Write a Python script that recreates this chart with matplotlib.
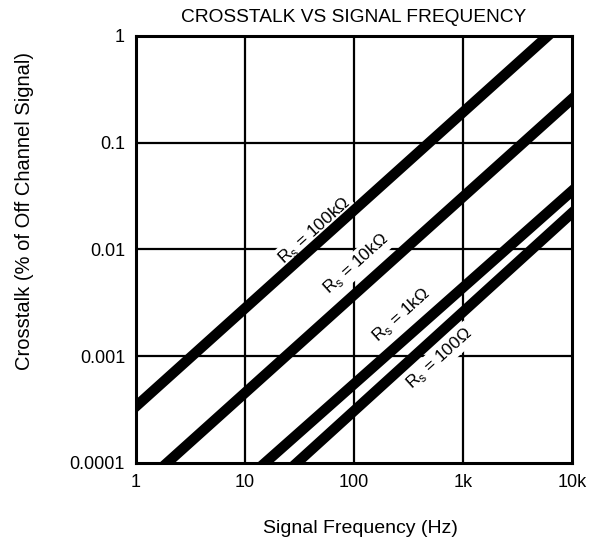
import matplotlib
matplotlib.use("Agg")
import matplotlib.pyplot as plt

plt.rcParams['font.family'] = ['Liberation Sans', 'DejaVu Sans']

# lignes : (fréquence, crosstalk) aux bords du cadre
series_names = ["100k", "10k", "1k", "100"]
freq_start = [1.0, 1.92, 15.2, 29.8]
xtalk_start = [0.00034, 0.0001, 0.0001, 0.0001]
freq_end = [6000.0, 10000.0, 10000.0, 10000.0]
xtalk_end = [1.0, 0.257, 0.0353, 0.022]

label_texts = ["R$_\\mathregular{s}$ = 100kΩ", "R$_\\mathregular{s}$ = 10kΩ",
               "R$_\\mathregular{s}$ = 1kΩ", "R$_\\mathregular{s}$ = 100Ω"]
label_freq = [43.5, 105.0, 272.0, 606.0]
label_xtalk = [0.0152, 0.0073, 0.00243, 0.00096]

x_ticks = [1, 10, 100, 1000, 10000]
x_tick_labels = ["1", "10", "100", "1k", "10k"]
y_ticks = [0.0001, 0.001, 0.01, 0.1, 1]
y_tick_labels = ["0.0001", "0.001", "0.01", "0.1", "1"]

fig = plt.figure(figsize=(5.97, 5.42), dpi=100)
ax = fig.add_axes([0.228, 0.1458, 0.730, 0.7878])
ax.set_xscale('log')
ax.set_yscale('log')
ax.set_xlim(1, 10000)
ax.set_ylim(0.0001, 1)

# griglia
for xt in x_ticks[1:-1]:
    ax.axvline(xt, color='black', lw=1.6, zorder=1)
for yt in y_ticks[1:-1]:
    ax.axhline(yt, color='black', lw=1.6, zorder=1)

for i in range(len(series_names)):
    ax.plot([freq_start[i], freq_end[i]], [xtalk_start[i], xtalk_end[i]],
            color='black', lw=7.5, solid_capstyle='projecting', zorder=3)

for i in range(len(label_texts)):
    ax.text(label_freq[i], label_xtalk[i], label_texts[i], rotation=42,
            ha='center', va='center', fontsize=12.5, zorder=2,
            bbox=dict(facecolor='white', edgecolor='none', pad=1.5))

ax.set_xticks(x_ticks)
ax.set_xticklabels(x_tick_labels)
ax.set_yticks(y_ticks)
ax.set_yticklabels(y_tick_labels)
ax.minorticks_off()
ax.tick_params(length=0, labelsize=13, pad=8)
for s in ax.spines.values():
    s.set_linewidth(2.2)

ax.set_title("CROSSTALK VS SIGNAL FREQUENCY", fontsize=13.8, pad=10)
ax.set_xlabel("Signal Frequency (Hz)", fontsize=14)
ax.set_ylabel("Crosstalk (% of Off Channel Signal)", fontsize=14.5)
ax.xaxis.set_label_coords(0.514, -0.133)
ax.yaxis.set_label_coords(-0.235, 0.59)

fig.savefig("out.png", dpi=100)
